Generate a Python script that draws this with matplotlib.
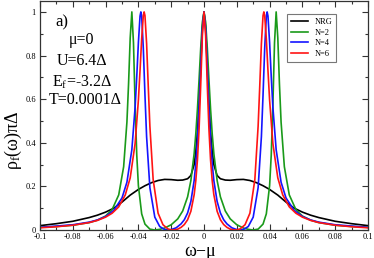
import matplotlib
matplotlib.use("Agg")
import matplotlib.pyplot as plt
from matplotlib.ticker import MultipleLocator, FixedLocator

plt.rcParams['font.family'] = ['Liberation Serif', 'DejaVu Serif']
plt.rcParams['mathtext.fontset'] = 'custom'
plt.rcParams['mathtext.rm'] = 'Liberation Serif'
plt.rcParams['mathtext.it'] = 'Liberation Serif:italic'

# ---- data ----
nrg_x = [-0.100, -0.090, -0.080, -0.070, -0.065, -0.060, -0.055, -0.050, -0.045, -0.040, -0.036,
         -0.032, -0.028, -0.024, -0.020, -0.016, -0.013, -0.010, -0.008, -0.006, -0.005, -0.004,
         -0.003, -0.002, -0.001, 0.000, 0.001, 0.002, 0.003, 0.004, 0.005, 0.006, 0.008, 0.010,
         0.013, 0.016, 0.020, 0.024, 0.028, 0.032, 0.036, 0.040, 0.045, 0.050, 0.055, 0.060,
         0.065, 0.070, 0.080, 0.090, 0.100]
nrg_y = [0.020, 0.029, 0.040, 0.057, 0.068, 0.082, 0.100, 0.128, 0.160, 0.186, 0.203,
         0.217, 0.227, 0.232, 0.231, 0.228, 0.229, 0.235, 0.250, 0.300, 0.360, 0.450,
         0.580, 0.760, 0.930, 1.000, 0.930, 0.760, 0.580, 0.450, 0.360, 0.300, 0.250, 0.235,
         0.229, 0.228, 0.231, 0.232, 0.227, 0.217, 0.203, 0.186, 0.160, 0.128, 0.100, 0.082,
         0.068, 0.057, 0.040, 0.029, 0.020]

n2_x = [-0.100, -0.090, -0.080, -0.070, -0.065, -0.060, -0.056, -0.052, -0.049, -0.047, -0.046,
        -0.045, -0.044, -0.043, -0.042, -0.041, -0.040, -0.038, -0.036, -0.033, -0.030, -0.027,
        -0.024, -0.020, -0.016, -0.013, -0.010, -0.008, -0.006, -0.005, -0.004, -0.003, -0.002,
        -0.001, 0.000, 0.001, 0.002, 0.003, 0.004, 0.005, 0.006, 0.008, 0.010, 0.013, 0.016,
        0.020, 0.024, 0.027, 0.030, 0.033, 0.036, 0.038, 0.040, 0.041, 0.042, 0.043, 0.044,
        0.045, 0.046, 0.047, 0.049, 0.052, 0.056, 0.060, 0.065, 0.070, 0.080, 0.090, 0.100]
n2_y = [0.013, 0.016, 0.022, 0.034, 0.045, 0.064, 0.094, 0.161, 0.290, 0.495, 0.670,
        0.881, 1.000, 0.858, 0.574, 0.344, 0.203, 0.074, 0.027, 0.004, 0.000, 0.003,
        0.009, 0.024, 0.051, 0.087, 0.152, 0.227, 0.351, 0.441, 0.555, 0.691, 0.835,
        0.953, 1.000, 0.953, 0.835, 0.691, 0.555, 0.441, 0.351, 0.227, 0.152, 0.087, 0.051,
        0.024, 0.009, 0.003, 0.000, 0.004, 0.027, 0.074, 0.203, 0.344, 0.574, 0.858, 1.000,
        0.881, 0.670, 0.495, 0.290, 0.161, 0.094, 0.064, 0.045, 0.034, 0.022, 0.016, 0.013]

n4_x = [-0.100, -0.090, -0.080, -0.070, -0.065, -0.060, -0.055, -0.050, -0.047, -0.044, -0.042,
        -0.041, -0.040, -0.039, -0.0385, -0.038, -0.037, -0.036, -0.035, -0.033, -0.030, -0.027,
        -0.024, -0.022, -0.020, -0.017, -0.014, -0.012, -0.010, -0.008, -0.006, -0.005, -0.004,
        -0.003, -0.002, -0.001, 0.000, 0.001, 0.002, 0.003, 0.004, 0.005, 0.006, 0.008, 0.010,
        0.012, 0.014, 0.017, 0.020, 0.022, 0.024, 0.027, 0.030, 0.033, 0.035, 0.036, 0.037,
        0.038, 0.0385, 0.039, 0.040, 0.041, 0.042, 0.044, 0.047, 0.050, 0.055, 0.060, 0.065,
        0.070, 0.080, 0.090, 0.100]
n4_y = [0.012, 0.018, 0.024, 0.036, 0.046, 0.062, 0.090, 0.147, 0.219, 0.368, 0.563,
        0.704, 0.860, 0.981, 1.000, 0.980, 0.832, 0.619, 0.428, 0.194, 0.059, 0.016,
        0.002, 0.000, 0.002, 0.010, 0.028, 0.047, 0.078, 0.131, 0.227, 0.304, 0.413,
        0.560, 0.744, 0.921, 1.000, 0.921, 0.744, 0.560, 0.413, 0.304, 0.227, 0.131, 0.078,
        0.047, 0.028, 0.010, 0.002, 0.000, 0.002, 0.016, 0.059, 0.194, 0.428, 0.619, 0.832,
        0.980, 1.000, 0.981, 0.860, 0.704, 0.563, 0.368, 0.219, 0.147, 0.090, 0.062, 0.046,
        0.036, 0.024, 0.018, 0.012]

n6_x = [-0.100, -0.090, -0.080, -0.070, -0.065, -0.060, -0.056, -0.052, -0.048, -0.045, -0.042,
        -0.040, -0.039, -0.038, -0.037, -0.0365, -0.036, -0.035, -0.034, -0.033, -0.031, -0.028,
        -0.025, -0.022, -0.020, -0.019, -0.018, -0.016, -0.014, -0.012, -0.010, -0.008, -0.006,
        -0.005, -0.004, -0.003, -0.002, -0.001, 0.000, 0.001, 0.002, 0.003, 0.004, 0.005,
        0.006, 0.008, 0.010, 0.012, 0.014, 0.016, 0.018, 0.019, 0.020, 0.022, 0.025, 0.028,
        0.031, 0.033, 0.034, 0.035, 0.036, 0.0365, 0.037, 0.038, 0.039, 0.040, 0.042, 0.045,
        0.048, 0.052, 0.056, 0.060, 0.065, 0.070, 0.080, 0.090, 0.100]
n6_y = [0.010, 0.015, 0.022, 0.034, 0.044, 0.059, 0.077, 0.106, 0.161, 0.239, 0.397,
        0.596, 0.732, 0.877, 0.984, 1.000, 0.983, 0.855, 0.660, 0.476, 0.231, 0.077,
        0.024, 0.005, 0.0005, 0.000, 0.0005, 0.004, 0.012, 0.025, 0.047, 0.086, 0.162,
        0.226, 0.321, 0.464, 0.666, 0.890, 1.000, 0.890, 0.666, 0.464, 0.321, 0.226,
        0.162, 0.086, 0.047, 0.025, 0.012, 0.004, 0.0005, 0.000, 0.0005, 0.005, 0.024, 0.077,
        0.231, 0.476, 0.660, 0.855, 0.983, 1.000, 0.984, 0.877, 0.732, 0.596, 0.397, 0.239,
        0.161, 0.106, 0.077, 0.059, 0.044, 0.034, 0.022, 0.015, 0.010]

series_labels = ['NRG', 'N=2', 'N=4', 'N=6']
series_colors = ['#000000', '#1a9a1a', '#1414ff', '#ff1414']

x_ticks = [-0.1, -0.08, -0.06, -0.04, -0.02, 0.0, 0.02, 0.04, 0.06, 0.08, 0.1]
x_tick_labels = ['-0.1', '-0.08', '-0.06', '-0.04', '-0.02', '0', '0.02', '0.04', '0.06', '0.08', '0.1']
y_ticks = [0.0, 0.2, 0.4, 0.6, 0.8, 1.0]
y_tick_labels = ['0', '0.2', '0.4', '0.6', '0.8', '1']

# ---- figure ----
W, H = 374, 258
fig = plt.figure(figsize=(W / 100, H / 100), dpi=100)
ax = fig.add_axes([40 / W, (H - 230) / H, 328 / W, 229 / H])

for xs, ys, lab, col in zip([nrg_x, n2_x, n4_x, n6_x], [nrg_y, n2_y, n4_y, n6_y],
                            series_labels, series_colors):
    ax.plot(xs, ys, color=col, lw=1.2, label=lab)

ax.set_xlim(-0.1, 0.1)
ax.set_ylim(0, 1.05)
ax.xaxis.set_major_locator(FixedLocator(x_ticks))
ax.set_xticklabels(x_tick_labels)
ax.yaxis.set_major_locator(FixedLocator(y_ticks))
ax.set_yticklabels(y_tick_labels)
ax.xaxis.set_minor_locator(MultipleLocator(0.01))
ax.yaxis.set_minor_locator(MultipleLocator(0.1))
ax.tick_params(which='both', direction='in', top=True, right=True, labelsize=6,
               width=0.8, colors='#333333', labelcolor='black')
ax.tick_params(axis='x', which='major', pad=2.5)
ax.tick_params(axis='y', which='major', pad=3)
ax.tick_params(which='major', length=4)
ax.tick_params(which='minor', length=2)
for s in ax.spines.values():
    s.set_linewidth(0.9)
    s.set_color('#333333')

fig.text(200 / W, 1 - 251 / H, 'ω−μ', fontsize=13, ha='center', va='center')
fig.text(13 / W, 1 - 140 / H, r'$\mathrm{ρ_f(ω)πΔ}$', fontsize=13, rotation=90,
         ha='center', va='center')

ax.text(62 / W, 1 - 22 / H, 'a)', transform=fig.transFigure, fontsize=12,
        ha='center', va='center')
ax.text(81 / W, 1 - 40 / H, 'μ=0', transform=fig.transFigure, fontsize=11.5,
        ha='center', va='center')
ax.text(82 / W, 1 - 61 / H, 'U=6.4Δ', transform=fig.transFigure, fontsize=11.5,
        ha='center', va='center')
ax.text(82 / W, 1 - 82 / H, r'E$_\mathrm{f}$=-3.2Δ', transform=fig.transFigure, fontsize=11.5,
        ha='center', va='center')
ax.text(85 / W, 1 - 100 / H, 'T=0.0001Δ', transform=fig.transFigure, fontsize=11.5,
        ha='center', va='center')

leg = ax.legend(loc='upper left', bbox_to_anchor=((287 - 40) / 328, (230 - 14) / 229),
                fontsize=6, frameon=True, fancybox=False, handlelength=2.0,
                handletextpad=0.8, borderpad=0.5, labelspacing=0.3, borderaxespad=0)
leg.get_frame().set_edgecolor('#555555')
leg.get_frame().set_linewidth(0.8)

fig.savefig('out.png', dpi=100)
